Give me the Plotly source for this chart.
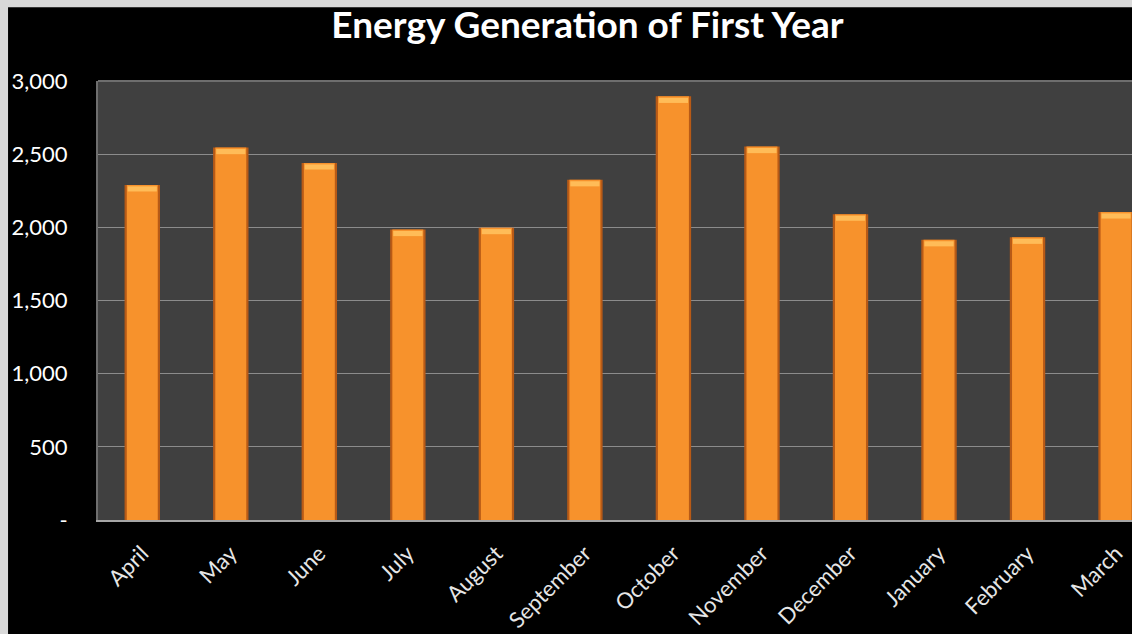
import plotly.graph_objects as go

# Monthly energy generation, first year of operation
months = ["April", "May", "June", "July", "August", "September",
          "October", "November", "December", "January", "February", "March"]
generation = [2290, 2545, 2440, 1985, 1998, 2325, 2895, 2552, 2090, 1915, 1932, 2105]

y_tickvals = [0, 500, 1000, 1500, 2000, 2500, 3000]
y_ticktext = ["-", "500", "1,000", "1,500", "2,000", "2,500", "3,000"]

fig = go.Figure()

# dark rim of each column
fig.add_trace(go.Bar(
    x=months, y=generation, width=0.40,
    marker=dict(color="#b85a16", line=dict(width=0)),
    hoverinfo="skip", showlegend=False,
))
# bright body of each column
fig.add_trace(go.Bar(
    x=months, y=generation, width=0.35,
    marker=dict(color="#f7922c", line=dict(width=0)),
    showlegend=False,
))
# light bevel on the column tops
fig.add_trace(go.Bar(
    x=months, y=[35] * len(generation), base=[v - 45 for v in generation], width=0.33,
    marker=dict(color="#ffbc58", line=dict(width=0)),
    hoverinfo="skip", showlegend=False,
))

fig.update_layout(
    width=1132, height=634,
    barmode="overlay",
    paper_bgcolor="#000000",
    plot_bgcolor="#404040",
    margin=dict(l=98, r=0, t=81, b=114),
    title=dict(
        text="<b>Energy Generation of First Year</b>",
        x=0.519, xanchor="center", y=0.960, yanchor="middle",
        font=dict(family="Lato, Open Sans, sans-serif", size=37, color="#ffffff"),
    ),
    xaxis=dict(
        type="category",
        range=[-0.5, 11.18],
        showgrid=False,
        tickangle=-45,
        tickfont=dict(family="Lato, Open Sans, sans-serif", size=22, color="#e6e6e6"),
        ticklabelstandoff=10,
        showline=True, linecolor="#a6a6a6", linewidth=2,
        ticks="",
    ),
    yaxis=dict(
        range=[0, 3000],
        tickvals=y_tickvals, ticktext=y_ticktext,
        gridcolor="#8c8c8c", gridwidth=1,
        tickfont=dict(family="Lato, Open Sans, sans-serif", size=22, color="#ffffff"),
        ticklabelstandoff=24,
        showline=True, linecolor="#6e6e6e", linewidth=2,
        zeroline=False,
        ticks="",
    ),
    shapes=[
        # light frame strips along the top and left edges
        dict(type="rect", xref="paper", yref="paper", layer="below",
             x0=-0.2, x1=1.1, y0=1.168, y1=1.3, fillcolor="#d9d9d9", line=dict(width=0)),
        dict(type="rect", xref="paper", yref="paper", layer="below",
             x0=-0.2, x1=-0.0870, y0=-0.4, y1=1.3, fillcolor="#d9d9d9", line=dict(width=0)),
        # top border of the plot area
        dict(type="line", xref="paper", yref="paper", x0=0, x1=1, y0=1, y1=1,
             line=dict(color="#6e6e6e", width=2)),
    ],
)

fig.write_html("out.html")
